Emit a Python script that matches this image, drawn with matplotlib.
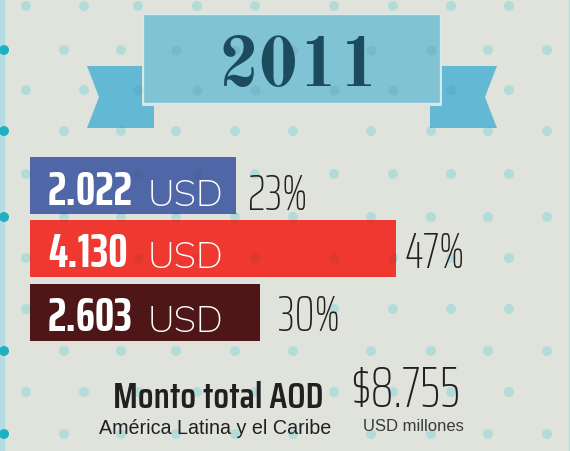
import matplotlib
matplotlib.use("Agg")
import matplotlib.pyplot as plt
from matplotlib.patches import Polygon, Rectangle

# data
year = "2011"
amounts = ["2.022", "4.130", "2.603"]
shares = ["23%", "47%", "30%"]
bar_len = [206, 366, 230]          # drawn bar lengths (not proportional in the original)
bar_colors = ["#5067a7", "#ef382f", "#4f1617"]
total = "$8.755"
total_label = "Monto total AOD"
region = "América Latina y el Caribe"
unit = "USD millones"

# background dot pattern (two alternating column sets)
dot_x_a = [26, 84, 138, 197, 255, 334, 393, 451, 509]
dot_x_b = [4, 64, 121, 176, 235, 293, 371, 431, 488, 547]
dot_rows = [(7, "a"), (51, "b"), (91, "a"), (132, "b"), (175, "a"), (218, "b"),
            (259, "a"), (310, "a"), (352, "b"), (393, "a"), (435, "b")]

BG = "#e0e3dc"
DARK = "#231f20"
NUM_BOLD = ["Saira ExtraCondensed", "Barlow Condensed", "DejaVu Sans"]
NUM_LIGHT = ["Saira ExtraCondensed", "Barlow Condensed", "DejaVu Sans"]
LABEL_BOLD = ["Saira Condensed", "Barlow Condensed", "DejaVu Sans"]
GEO = ["Mulish", "Questrial", "DejaVu Sans"]
SERIF = ["Old Standard TT", "Liberation Serif", "DejaVu Serif"]
ARIAL = ["Liberation Sans", "Arimo", "DejaVu Sans"]

fig = plt.figure(figsize=(5.7, 4.52), dpi=100)
fig.patch.set_facecolor(BG)
ax = fig.add_axes([0, 0, 1, 1])
ax.set_xlim(0, 570)
ax.set_ylim(452, 0)
ax.axis("off")

dx, dy = [], []
for y, kind in dot_rows:
    for x in (dot_x_a if kind == "a" else dot_x_b):
        dx.append(x)
        dy.append(y)
dcol = ["#1eb1c1" if x < 10 else "#b3dcd8" for x in dx]

# side borders
ax.add_patch(Rectangle((0, 0), 3.5, 452, color="#b3dde2", zorder=1))
ax.add_patch(Rectangle((568.5, 0), 1.5, 452, color="#b3dde2", zorder=1))
ax.scatter(dx, dy, s=52, c=dcol, linewidths=0, zorder=2)

# banner
shapes = []
left_tail = Polygon([(87, 67), (142, 67), (142, 107), (154, 107), (154, 129),
                     (87, 129), (99, 98)], closed=True, fc="#63b9d4", ec="none", zorder=3)
right_tail = Polygon([(497, 67), (442, 67), (442, 107), (430, 107), (430, 129),
                      (497, 129), (485, 98)], closed=True, fc="#63b9d4", ec="none", zorder=3)
main = Rectangle((143, 15), 297, 89, fc="#80c3d4", ec="#d6eaee", lw=1, zorder=4)
for p in (left_tail, right_tail, main):
    ax.add_patch(p)
    shapes.append(p)

ax.text(299, 86, year, ha="center", va="baseline", fontsize=50,
        family=SERIF, weight="bold", color="#1d4b5e", zorder=8)

# bars
bar_y = [186.5, 249.5, 313.5]
bars = ax.barh(bar_y, bar_len, left=30, height=57, color=bar_colors, zorder=4)
shapes.extend(bars.patches)

# faint dots showing through the coloured shapes
for p in shapes:
    sc = ax.scatter(dx, dy, s=52, c="#0d3f4c", alpha=0.07, linewidths=0, zorder=5)
    sc.set_clip_path(p)

base = [205, 267.5, 331]
share_base = [210, 268, 331]
share_x = [248, 405, 278]
for i in range(3):
    ax.text(48, base[i], amounts[i], ha="left", va="baseline", fontsize=35,
            family=NUM_BOLD, weight="bold", color="white", zorder=8)
    ax.text(148, base[i] + 1, "USD", ha="left", va="baseline", fontsize=26.5,
            family=GEO, weight="light", color="white", zorder=8)
    ax.text(share_x[i], share_base[i], shares[i], ha="left", va="baseline", fontsize=36,
            family=NUM_LIGHT, weight="light", color=DARK, zorder=8)

# totals
ax.text(218, 408, total_label, ha="center", va="baseline", fontsize=26,
        family=LABEL_BOLD, weight="semibold", color=DARK, zorder=8)
ax.text(215, 434, region, ha="center", va="baseline", fontsize=14.2,
        family=ARIAL, color=DARK, zorder=8)
ax.text(405, 407, total, ha="center", va="baseline", fontsize=41,
        family=NUM_LIGHT, weight="light", color=DARK, zorder=8)
ax.text(413.5, 431, unit, ha="center", va="baseline", fontsize=12,
        family=ARIAL, color="#3a3a3a", zorder=8)

fig.savefig("out.png", dpi=100, facecolor=BG)
